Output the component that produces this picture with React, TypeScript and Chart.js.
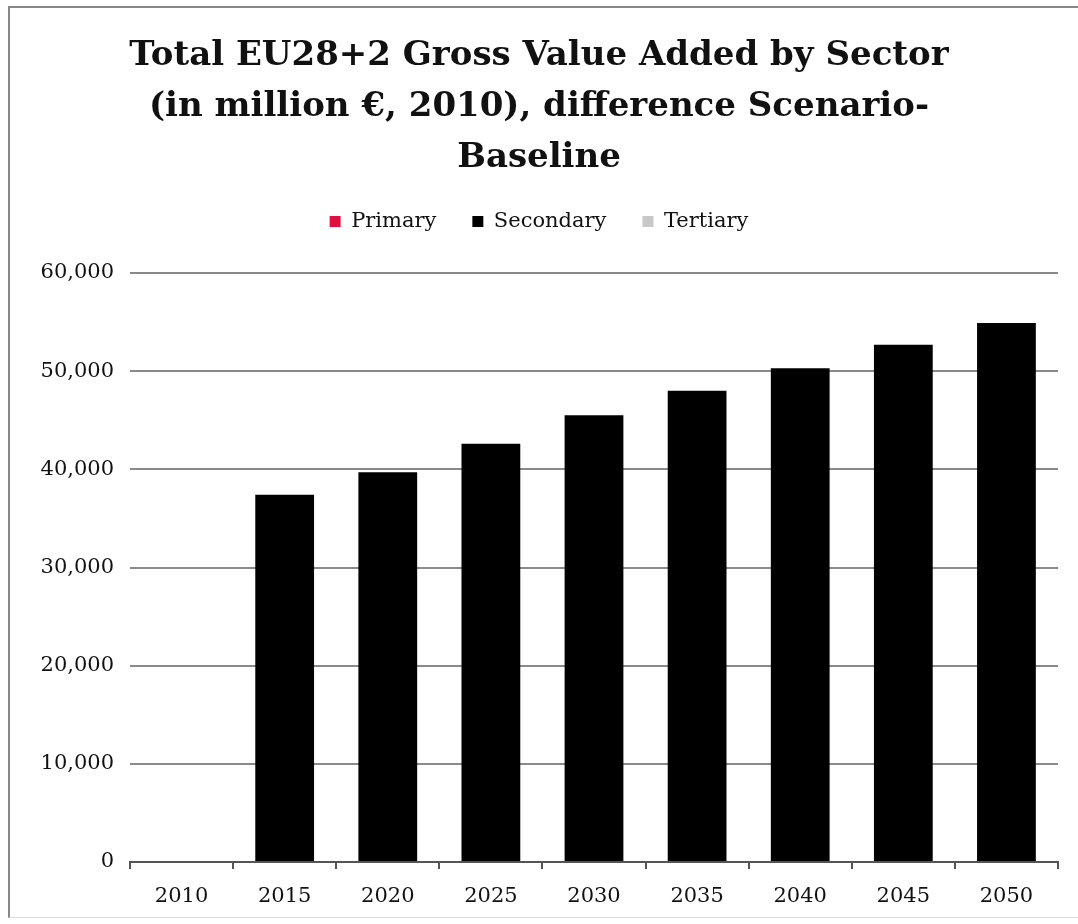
import React, { useEffect, useRef } from "react";
import { Chart, registerables } from "chart.js";

Chart.register(...registerables);

const years = ["2010", "2015", "2020", "2025", "2030", "2035", "2040", "2045", "2050"];
const primary = [0, 0, 0, 0, 0, 0, 0, 0, 0];
const secondary = [0, 37400, 39700, 42600, 45500, 48000, 50300, 52700, 54900];
const tertiary = [0, 0, 0, 0, 0, 0, 0, 0, 0];
const titleLines = [
  "Total EU28+2 Gross Value Added by Sector",
  "(in million €, 2010), difference Scenario-",
  "Baseline",
];

const FONT = "'DejaVu Serif', serif";

export default function App() {
  const ref = useRef<HTMLCanvasElement>(null);
  useEffect(() => {
    if (!ref.current) return;
    const spacer = {
      id: "spacer",
      beforeInit(chart: any) {
        const lf = chart.legend.fit;
        chart.legend.fit = function () {
          lf.bind(chart.legend)();
          this.height += 31;
        };
      },
    };
    const chart = new Chart(ref.current, {
      type: "bar",
      data: {
        labels: years,
        datasets: [
          { label: "Primary", data: primary, backgroundColor: "#E0103C" },
          { label: "Secondary", data: secondary, backgroundColor: "#000000" },
          { label: "Tertiary", data: tertiary, backgroundColor: "#C8C8C8" },
        ],
      },
      options: {
        animation: false,
        responsive: false,
        maintainAspectRatio: false,
        layout: { padding: { left: 20, right: 20, top: 0, bottom: 8 } },
        datasets: { bar: { categoryPercentage: 1, barPercentage: 0.57 } },
        plugins: {
          title: {
            display: true,
            text: titleLines,
            color: "#111",
            font: { family: FONT, size: 34, weight: "bold", lineHeight: 1.5 },
            padding: { top: 31, bottom: -9 },
          },
          legend: {
            display: true,
            position: "top",
            labels: {
              color: "#111",
              font: { family: FONT, size: 21 },
              boxWidth: 11,
              boxHeight: 11,
              padding: 36,
            },
          },
          tooltip: { enabled: false },
        },
        scales: {
          x: {
            stacked: true,
            afterFit(scale: any) {
              scale.height = 54;
            },
            border: { display: true, color: "#555", width: 2 },
            grid: {
              display: true,
              drawOnChartArea: false,
              drawTicks: true,
              tickLength: 7,
              color: "#555",
              lineWidth: 2,
              offset: true,
            },
            ticks: {
              color: "#111",
              font: { family: FONT, size: 21 },
              padding: 15,
            },
          },
          y: {
            stacked: true,
            min: 0,
            max: 60000,
            afterFit(scale: any) {
              scale.width = 110;
            },
            border: { display: false },
            grid: { color: "#8a8a8a", lineWidth: 2, drawTicks: false },
            ticks: {
              stepSize: 10000,
              color: "#111",
              font: { family: FONT, size: 21 },
              padding: 16,
              callback: (v: any) => Number(v).toLocaleString("en-US"),
            },
          },
        },
      },
      plugins: [spacer],
    });
    return () => chart.destroy();
  }, []);
  return (
    <div style={{ position: "absolute", left: 0, top: 0, width: 1078, height: 924, background: "#fff" }}>
      <div
        style={{
          position: "absolute",
          left: 8,
          top: 6,
          width: 1070,
          height: 912,
          borderLeft: "2px solid #888",
          borderTop: "2px solid #888",
          borderBottom: "1px solid #ddd",
          boxSizing: "border-box",
        }}
      />
      <canvas ref={ref} width={1078} height={924} style={{ position: "absolute", left: 0, top: 0 }} />
    </div>
  );
}
